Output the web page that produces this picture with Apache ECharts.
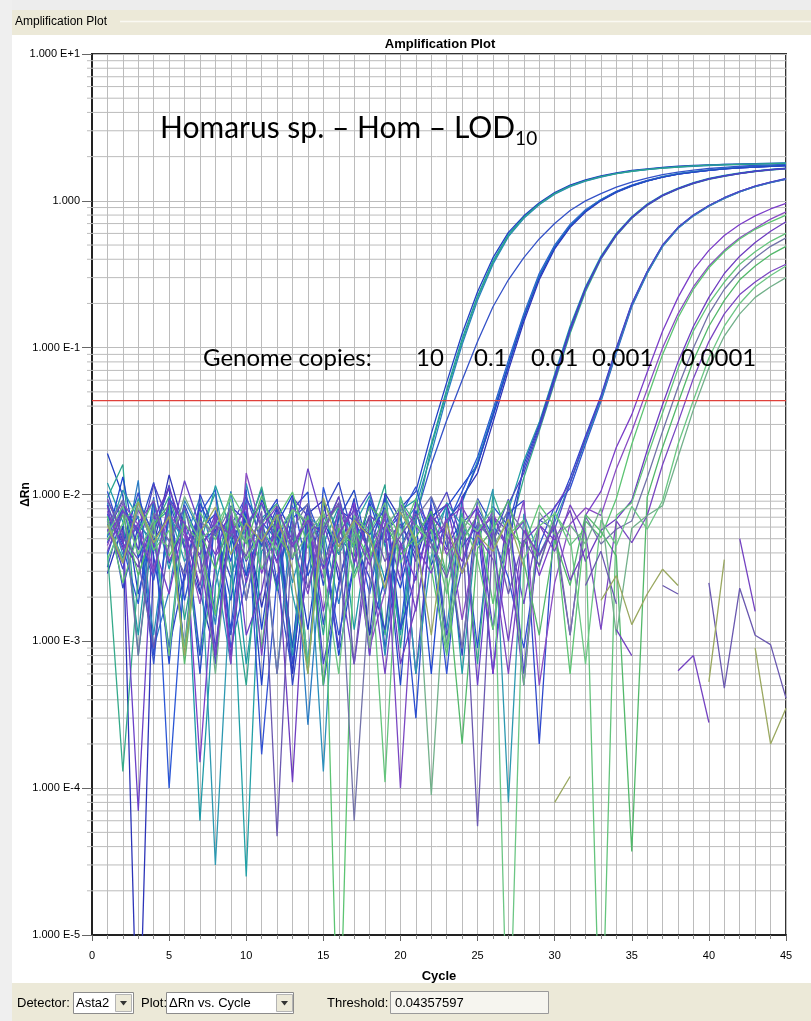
<!DOCTYPE html>
<html>
<head>
<meta charset="utf-8">
<title>Amplification Plot</title>
<script src="https://cdn.jsdelivr.net/npm/echarts/dist/echarts.min.js"></script>
<style>
  html, body { margin: 0; padding: 0; background: #fff; }
  #chart { width: 811px; height: 1021px; }
</style>
</head>
<body>
<div id="chart"></div>
<script>
// x values: PCR cycle of every reading
const cycles = [1,2,3,4,5,6,7,8,9,10,11,12,13,14,15,16,17,18,19,20,21,22,23,24,25,26,27,28,29,30,
  31,32,33,34,35,36,37,38,39,40,41,42,43,44,45];

// ΔRn per cycle (null = negative reading, not drawn on log axis)
// 10 genome copies
const r10a = [.012,.0065,.0011,.0088,.0031,.0075,.00006,.0024,.0068,.0007,.0041,.0058,.0009,.0072,.0046,.0083,.0012,.0061,.0026,.0078,.0092,
  .022,.052,.115,.225,.39,.59,.78,.96,1.13,1.27,1.38,1.47,1.54,1.6,1.64,1.68,1.71,1.73,1.75,1.77,1.78,1.79,1.8,1.81];
const r10b = [.019,.0098,.0021,.0057,.0112,.0008,.0069,.0015,.0048,.0073,.0005,.0087,.0054,.0012,.0066,.0039,.0094,.0011,.0027,.0081,.0105,
  .026,.058,.125,.24,.41,.61,.79,.97,1.14,1.28,1.39,1.48,1.55,1.61,1.65,1.69,1.72,1.74,1.76,1.77,1.78,1.79,1.8,1.8];
const r10c = [.0068,.0035,.0125,.0009,.0022,.0091,.0056,.0013,.0105,.0028,.0063,.0006,.0084,.00027,.0057,.0018,.0072,.0008,.0096,.0059,.0083,
  .019,.047,.105,.21,.37,.57,.76,.94,1.11,1.25,1.36,1.45,1.53,1.59,1.63,1.67,1.7,1.72,1.74,1.76,1.77,1.78,1.79,1.8];
const r10d = [.0032,.0077,.0054,.0007,.0089,.0043,.0021,.0067,.0011,.0055,.0108,.0025,.0006,.0071,.0013,.0052,.0038,.0086,.0009,.0044,.0071,
  .016,.032,.06,.11,.19,.29,.41,.55,.7,.86,1.0,1.12,1.24,1.34,1.43,1.51,1.57,1.62,1.66,1.69,1.72,1.74,1.76,1.77];
const r10e = [.0095,.016,.0008,.0064,.0078,.0014,.0058,.0102,.0031,.0005,.0069,.0022,.0093,.0056,.0011,.0074,.0029,.0055,.0117,.0009,.0066,
  .021,.05,.11,.22,.38,.58,.77,.95,1.12,1.26,1.37,1.46,1.53,1.59,1.64,1.67,1.7,1.73,1.75,1.76,1.77,1.78,1.79,1.8];
// 0.1 copies
const r01a = [.0051,.0132,.0037,.0069,.0007,.0085,.0046,.0058,.0019,.0077,.0012,.0063,.0099,.0028,.0052,.0008,.0034,.0088,.0045,.0023,.0067,.0006,.0082,.0115,
  .016,.034,.075,.16,.31,.49,.68,.86,1.01,1.15,1.27,1.37,1.45,1.52,1.57,1.61,1.65,1.68,1.7,1.72,1.74];
const r01b = [.0072,.0044,.0018,.0096,.0001,.0031,.0074,.0108,.0009,.0026,.0065,.0049,.0081,.0007,.0112,.0047,.0062,.0021,.0076,.0012,.0093,.0048,.0061,.0105,
  .018,.038,.082,.17,.32,.5,.69,.87,1.02,1.16,1.28,1.38,1.46,1.53,1.58,1.62,1.66,1.69,1.71,1.73,1.74];
const r01c = [.0029,.0061,.000001,.0045,.0136,.0058,.0022,.0008,.0083,.0066,.0017,.0054,.0006,.0074,.0091,.0026,.0059,.0011,.0102,.0068,.0035,.0079,.0009,.0096,
  .014,.031,.07,.15,.29,.47,.66,.84,1.0,1.14,1.26,1.36,1.45,1.52,1.57,1.61,1.65,1.68,1.7,1.72,1.74];
const r01d = [.0088,.0039,.0064,.0011,.0071,.0048,.0095,.0033,.0007,.0119,.0044,.0076,.0025,.0063,.00013,.0087,.0052,.0068,.0008,.0097,.0046,.0059,.0012,.0088,
  .017,.036,.078,.165,.31,.49,.68,.86,1.02,1.15,1.27,1.37,1.46,1.53,1.58,1.62,1.66,1.69,1.71,1.73,1.75];
const r01e = [.0047,.0082,.0056,.0121,.0034,.0065,.0006,.0073,.0051,.0028,.0092,.0061,.0009,.0085,.0024,.0069,.0107,.0037,.0058,.0005,.0078,.0033,.0066,.0091,
  .016,.035,.076,.16,.3,.48,.67,.85,1.01,1.15,1.27,1.37,1.45,1.52,1.57,1.61,1.65,1.68,1.7,1.72,1.74];
// 0.01 copies
const r001a = [.0063,.0037,.0094,.0052,.0009,.0078,.0044,.0115,.0058,.000025,.0069,.0087,.0021,.0007,.0073,.0039,.0062,.0098,.0046,.0011,.0071,.0054,.0083,.0006,.0065,.0049,.0078,
  .017,.031,.066,.14,.26,.42,.6,.78,.95,1.1,1.22,1.33,1.42,1.49,1.55,1.6,1.64,1.67];
const r001b = [.0105,.0048,.0071,.0008,.0086,.0019,.0057,.0074,.0012,.0093,.0062,.0035,.0079,.0104,.0005,.0025,.0068,.0053,.0081,.0039,.0003,.0096,.0044,.0067,.0009,.0083,.0061,
  .015,.029,.062,.13,.25,.41,.59,.77,.94,1.09,1.21,1.32,1.41,1.48,1.54,1.59,1.63,1.66];
const r001c = [.0041,.00013,.0028,.0059,.0097,.0045,.0008,.0031,.0084,.0052,.0113,.0038,.0061,.0006,.0089,.0057,.0043,.0072,.0011,.0091,.0063,.0047,.0029,.0075,.0007,.0101,.0052,
  .013,.027,.058,.125,.24,.4,.58,.76,.93,1.08,1.2,1.31,1.4,1.47,1.53,1.58,1.62,1.65];
const r001d = [.0085,.0023,.0061,.0049,.0072,.0009,.0101,.0054,.0027,.0068,.0045,.0082,.0005,.0033,.0076,.0121,.0048,.0027,.0012,.0087,.0041,.0073,.0052,.0008,.0094,.0061,.0044,
  .016,.03,.064,.135,.255,.41,.59,.77,.94,1.09,1.21,1.32,1.41,1.48,1.54,1.59,1.63,1.66];
const r001e = [.0056,.0091,.0042,.0118,.0064,.0026,.0083,.0007,.0069,.0035,.0058,.0024,.0096,.0071,.0043,.0009,.0089,.0037,.0055,.0078,.0006,.0066,.0104,.0049,.0072,.0012,.0086,
  .014,.028,.06,.13,.25,.405,.585,.765,.935,1.085,1.205,1.315,1.405,1.475,1.535,1.585,1.625,1.655];
// 0.001 copies
const r0001a = [.0074,.0046,.0103,.0038,.0009,.0029,.0087,.0052,.0071,.0019,.0064,.0093,.0007,.0058,.0032,.0079,.0066,.0041,.0097,.0012,.0028,.0071,.0085,.0044,.0062,.0006,.0075,.0091,.0002,.0072,
  .013,.025,.047,.1,.2,.33,.5,.66,.8,.93,1.05,1.16,1.26,1.34,1.41];
const r0001b = [.0039,.0082,.0057,.0026,.0094,.0066,.0008,.0078,.0035,.0108,.00017,.0027,.0069,.0086,.0047,.0011,.0034,.0092,.0055,.0072,.0113,.0048,.0006,.0064,.0081,.0052,.0027,.0009,.0045,.0083,
  .011,.022,.043,.092,.19,.32,.49,.65,.79,.92,1.04,1.15,1.25,1.33,1.4];
const r0001c = [.0091,.0055,.00007,.0072,.0048,.0124,.0061,.0039,.0083,.0011,.0022,.0076,.0049,.015,.0063,.0031,.0007,.0045,.0068,.0026,.0089,.0059,.0042,.0097,.0005,.0071,.0056,.0018,.0066,.0081,
  .012,.024,.045,.096,.195,.325,.495,.655,.795,.925,1.045,1.155,1.255,1.335,1.405];
const r0001d = [.0052,.0107,.0069,.0041,.0078,.0035,.0056,.00003,.0027,.0064,.0085,.0049,.0008,.0071,.0058,.0096,.0042,.0063,.0021,.0077,.0006,.0038,.0088,.0061,.0045,.0109,.00008,.0074,.0039,.0065,
  .012,.023,.044,.094,.192,.32,.49,.65,.79,.92,1.04,1.15,1.25,1.33,1.41];
const r0001e = [.0066,.0031,.0088,.0054,.0116,.0043,.0072,.0009,.0061,.0097,.0048,.0067,.0036,.0083,.0007,.0024,.0071,.0104,.0047,.0063,.0039,.0085,.0011,.0032,.0076,.0049,.0093,.0006,.0067,.0058,
  .012,.024,.046,.098,.198,.33,.5,.66,.8,.93,1.05,1.16,1.26,1.34,1.42];
// 0.0001 copies
const r00001a = [.0058,.0034,.0079,.0046,.0021,.0067,.00015,.0038,.0055,.0082,.0029,.0061,.0044,.0073,.0016,.0052,.0088,.0008,.0064,.0047,.0026,.0071,.0039,.0057,.0083,.0006,.0049,.0066,.0028,.0054,.0011,.0072,.0105,
  .021,.035,.068,.13,.22,.34,.46,.58,.69,.79,.88,.96];
const r00001b = [.0045,.0087,.0062,.0031,.0074,.0052,.0018,.0069,.0007,.014,.0057,.0034,.0081,.0063,.0027,.0078,.0046,.0009,.0022,.0085,.0061,.0043,.0068,.0014,.0052,.0076,.0039,.0091,.0005,.0025,.0063,.0081,.0072,
  .015,.027,.052,.1,.17,.26,.36,.46,.56,.65,.75,.84];
const r00001c = [.0071,.0025,.0054,.0092,.0038,.0063,.0047,.0015,.0082,.0056,.0009,.0069,.0104,.0043,.0077,.000001,.0058,.0036,.0079,.0052,.0094,.0031,.0008,.0048,.0072,.0018,.0059,.0044,.0085,.0061,.0006,.0066,.0051,.0094,
  .022,.045,.09,.16,.25,.35,.45,.55,.64,.72,.8];
const r00001d = [.0083,.0047,.0032,.0068,.0111,.0055,.0039,.0074,.0008,.0061,.0088,.0045,.00011,.0067,.0053,.0097,.0034,.0072,.0058,.0007,.0017,.0063,.0086,.0029,.0055,.0071,.0043,.0005,.0062,.0049,.0078,.0035,.0057,.0068,.0091,
  .02,.041,.08,.14,.22,.32,.42,.52,.62,.72];
const r00001e = [.0036,.0064,.0089,.0042,.0057,.0009,.0076,.0049,.0102,.0067,.0031,.0054,.0079,.0007,.0061,.0084,.0027,.0051,.00011,.0095,.0044,.0058,.0021,.0069,.0036,.0012,.0053,.0067,.0032,.0076,.0045,.0059,.000001,.0072,.0088,
  .018,.036,.072,.13,.2,.28,.37,.45,.53,.6];
const r00001f = [.0061,.0092,.0008,.0075,.0048,.0029,.0066,.0053,.0081,.0019,.0072,.0006,.0058,.0087,.0034,.0063,.00006,.0024,.0078,.0042,.0069,.0097,.0055,.0009,.0064,.0048,.0079,.0056,.0038,.0062,.0011,.0071,.0046,.0058,.0066,
  .013,.027,.054,.1,.17,.25,.33,.41,.49,.56];
const r00001g = [.0049,.0073,.0028,.0062,.0085,.0007,.0057,.0031,.0069,.0046,.0098,.0053,.0037,.0072,.0005,.0059,.0045,.0083,.0066,.0039,.0051,.0077,.0028,.0002,.0043,.0058,.0091,.0035,.0011,.0049,.0024,.0073,.0056,.0038,.000037,.0096,
  .021,.042,.082,.14,.21,.29,.36,.43,.49];
const r00001h = [.0077,.0042,.0064,.0091,.0035,.0058,.0024,.0071,.0052,.0086,.0008,.0063,.0047,.0021,.0068,.0084,.0056,.0033,.0074,.0001,.0045,.0029,.0067,.0082,.0053,.0036,.0006,.0048,.0062,.0041,.0085,.0054,.0012,.0066,.0047,.0072,
  .016,.031,.062,.11,.17,.23,.28,.33,.37];
const r00001i = [.0054,.0083,.0039,.0068,.0008,.0075,.0049,.0061,.0093,.0036,.0057,.0042,.0079,.0065,.0031,.0006,.0072,.0055,.0088,.0034,.0062,.0047,.0009,.0069,.0056,.0081,.000001,.0036,.0061,.0074,.0052,.0007,.0067,.0045,.0083,.0058,.0091,
  .022,.044,.085,.14,.2,.26,.31,.36];
const r00001j = [.0066,.0035,.0081,.0052,.0044,.0097,.0058,.0006,.0071,.0048,.0063,.0086,.0037,.0054,.0076,.0041,.0065,.0009,.0059,.0083,.0047,.00009,.0038,.0055,.0092,.0044,.0068,.0005,.0076,.0053,.0062,.0046,.0081,.0011,.0059,.0072,.0084,
  .018,.038,.073,.12,.17,.22,.26,.3];
// wells that never amplified
const ntcA = [.0094,.0051,.0036,.0009,.0047,.0083,.0029,.0061,.0054,.0038,.0077,.000047,.0066,.0023,.0059,.0088,.0007,.0069,.0035,.0052,
  .0074,.0046,.0027,.0063,.000055,.0058,.0021,.0049,.0033,.0068,null,.0024,.0041,.0018,null,null,.0024,.0021,null,.0025,.00048,.0023,.0011,.00095,.00041];
const ntcB = [.0041,.0078,.0056,.0029,.0091,.0063,.0037,.0008,.0072,.0025,.0059,.0083,.0044,.0067,.0031,.0054,.0079,.0038,.0006,.0047,
  .0016,.0071,.0053,.0035,.0076,.0044,.001,.0057,.0039,.0061,.0026,.0043,null,.0012,.0008,null,null,.00063,.0008,.00028,null,.005,.0016,null,null];
const ntcC = [.0062,.0034,.0089,.0047,.0071,.0008,.0055,.0082,.0039,.0064,.0048,.0073,.0031,.0006,.0095,.0044,.0067,.0052,.0023,.0076,
  .0049,.0011,.0064,.0029,.0053,.0041,.0068,.0032,null,.00008,.00012,null,.0019,.0028,.0013,.0021,.0031,.0024,null,.00053,.0036,null,.0009,.0002,.00035];

const threshold = 0.04357597;
const cycleRange = [0, 45];
const genomeCopies = ['10', '0.1', '0.01', '0.001', '0.0001'];
// log grid lines between the decades
const logMinor = [];
[0.00001, 0.0001, 0.001, 0.01, 0.1, 1].forEach(d => {
  [2,3,4,5,6,7,8,9].forEach(k => logMinor.push(+(d * k).toPrecision(3)));
});

const runs = [
  [r10a, '#1d9aa6'], [r10b, '#2240c4'], [r10c, '#2a7cc4'], [r10d, '#3452c8'], [r10e, '#2ba48e'],
  [r01a, '#1f46cf'], [r01b, '#2a56d6'], [r01c, '#2c34b8'], [r01d, '#2a8fba'], [r01e, '#2449c6'],
  [r001a, '#22a0a6'], [r001b, '#2a4ed0'], [r001c, '#35aa8a'], [r001d, '#3347c4'], [r001e, '#4d42c2'],
  [r0001a, '#2d47cc'], [r0001b, '#3050d2'], [r0001c, '#6a40c8'], [r0001d, '#2c98b0'], [r0001e, '#4a48c8'],
  [r00001a, '#7b3dc9'], [r00001b, '#8a4cc4'], [r00001c, '#5cc472'], [r00001d, '#6e3cc0'], [r00001e, '#64c47c'],
  [r00001f, '#7272a8'], [r00001g, '#52b86a'], [r00001h, '#7a46c2'], [r00001i, '#6cc684'], [r00001j, '#72b08a'],
  [ntcA, '#6a58b0'], [ntcB, '#7442c2'], [ntcC, '#9aa860']
];

const UI_FONT = "'Liberation Sans', Arial, sans-serif";
const NOTE_FONT = "Lato, 'Open Sans', sans-serif";

const series = runs.map(([vals, color]) => ({
  type: 'line',
  data: vals.map((v, i) => [cycles[i], v === null ? '-' : v]),
  symbol: 'none',
  silent: true,
  z: 3,
  lineStyle: {width: 1.3, color},
  itemStyle: {color}
}));

// threshold drawn as its own line (markLine rounds the value on a log axis)
series.push({
  type: 'line',
  data: cycleRange.map(c => [c, threshold]),
  symbol: 'none',
  silent: true,
  z: 4,
  lineStyle: {width: 1.3, color: '#e0403a'}
});

// 2..9 lines of each decade plus their short ticks left of the axis
series.unshift({
  type: 'custom',
  silent: true,
  clip: false,
  z: 1,
  data: logMinor.map(v => [0, v]),
  renderItem: (params, api) => {
    const a = api.coord([cycleRange[0], api.value(1)]);
    const b = api.coord([cycleRange[1], api.value(1)]);
    return {
      type: 'line',
      shape: {x1: a[0] - 5, y1: a[1], x2: b[0], y2: b[1]},
      style: {stroke: '#bcbcbc', lineWidth: 1}
    };
  }
});

const txt = (text, x, y, extra) => ({
  type: 'text', x, y, silent: true,
  style: Object.assign({text, fill: '#000', fontSize: 13, fontFamily: UI_FONT, verticalAlign: 'middle'}, extra)
});
const box = (x, y, w, h, fill, stroke) => ({
  type: 'rect', silent: true, shape: {x, y, width: w, height: h}, style: {fill, stroke, lineWidth: 1}
});
const arrow = (cx, cy) => ({
  type: 'polygon', silent: true,
  shape: {points: [[cx - 3.5, cy - 2], [cx + 3.5, cy - 2], [cx, cy + 2.5]]},
  style: {fill: '#333'}
});

const graphic = [
  // window chrome
  box(0, 0, 811, 10, '#ededed'),
  box(0, 0, 12, 1021, '#efefef'),
  box(12, 10, 799, 25, '#ece9d8'),
  {type: 'line', silent: true, shape: {x1: 120, y1: 21.5, x2: 811, y2: 21.5}, style: {stroke: '#faf9f2', lineWidth: 1.5}},
  txt('Amplification Plot', 15, 22, {fontSize: 12}),
  box(12, 983, 799, 38, '#ece9d8'),
  // bottom controls
  txt('Detector:', 17, 1003),
  box(73.5, 992.5, 60, 21, '#fff', '#8c8c8c'),
  txt('Asta2', 76, 1003),
  box(115.5, 994.5, 16, 17, '#ece9d8', '#b4b4b4'),
  arrow(123.5, 1003),
  txt('Plot:', 141, 1003),
  box(166.5, 992.5, 127, 21, '#fff', '#8c8c8c'),
  txt('ΔRn vs. Cycle', 169, 1003),
  box(276.5, 994.5, 16, 17, '#ece9d8', '#b4b4b4'),
  arrow(284.5, 1003),
  txt('Threshold:', 327, 1003),
  box(390.5, 991.5, 158, 22, '#f6f5ef', '#9a9a9a'),
  txt('0.04357597', 395, 1003),
  // chart title
  txt('Amplification Plot', 440, 44, {fontSize: 13, fontWeight: 'bold', align: 'center'}),
  // annotations pasted over the plot
  {
    type: 'text', x: 160, y: 128, silent: true, z: 10,
    style: {
      text: '{a|Homarus sp. – Hom – LOD}{b|10}',
      verticalAlign: 'middle',
      rich: {
        a: {fontSize: 30, fontFamily: NOTE_FONT, color: '#000', lineHeight: 40},
        b: {fontSize: 19, fontFamily: NOTE_FONT, color: '#000', lineHeight: 14, verticalAlign: 'bottom'}
      }
    }
  },
  Object.assign(txt('Genome copies:', 203, 358, {fontSize: 24, fontFamily: NOTE_FONT}), {z: 10})
];
[416, 474, 531, 592, 681].forEach((x, i) => {
  graphic.push(Object.assign(txt(genomeCopies[i], x, 358, {fontSize: 24, fontFamily: NOTE_FONT}), {z: 10}));
});

const chart = echarts.init(document.getElementById('chart'), null, {renderer: 'canvas'});
chart.setOption({
  animation: false,
  backgroundColor: '#fff',
  grid: {
    left: 92, right: 25, top: 54, bottom: 86,
    show: true, borderColor: '#333', borderWidth: 2, backgroundColor: '#fff'
  },
  xAxis: {
    type: 'value', min: cycleRange[0], max: cycleRange[1], interval: 5,
    axisLine: {show: true, lineStyle: {color: '#222', width: 2}},
    axisTick: {show: true, length: 6, lineStyle: {color: '#666'}},
    minorTick: {show: true, splitNumber: 5, length: 4, lineStyle: {color: '#888'}},
    splitLine: {show: true, lineStyle: {color: '#bcbcbc'}},
    minorSplitLine: {show: true, lineStyle: {color: '#bcbcbc'}},
    axisLabel: {color: '#000', fontSize: 11, margin: 15, fontFamily: UI_FONT},
    name: 'Cycle', nameLocation: 'middle', nameGap: 35,
    nameTextStyle: {color: '#000', fontWeight: 'bold', fontSize: 13, fontFamily: UI_FONT}
  },
  yAxis: {
    type: 'log', logBase: 10, min: 0.00001, max: 10, interval: 1,
    axisLine: {show: true, lineStyle: {color: '#222', width: 2}},
    axisTick: {show: true, length: 10, lineStyle: {color: '#666'}},
    splitLine: {show: true, lineStyle: {color: '#bcbcbc'}},
    axisLabel: {
      color: '#000', fontSize: 11, margin: 12, fontFamily: UI_FONT,
      formatter: v => {
        const e = Math.round(Math.log10(v));
        return e === 0 ? '1.000' : '1.000 E' + (e > 0 ? '+' : '') + e;
      }
    },
    name: 'ΔRn', nameLocation: 'middle', nameGap: 60, nameRotate: 90, nameMoveOverlap: false,
    nameTextStyle: {color: '#000', fontWeight: 'bold', fontSize: 12, fontFamily: UI_FONT}
  },
  graphic,
  series
});
</script>
</body>
</html>
